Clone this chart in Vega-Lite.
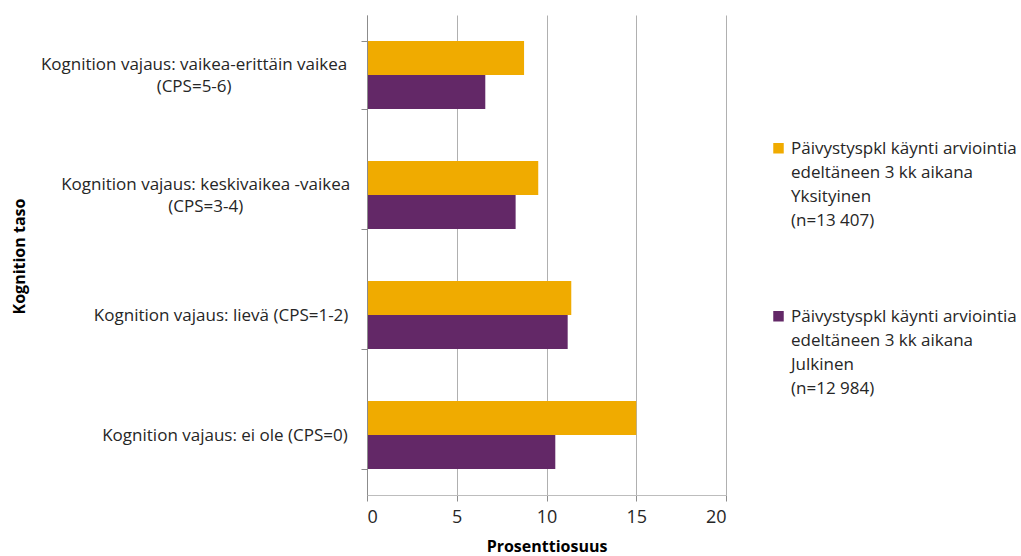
{
  "$schema": "https://vega.github.io/schema/vega-lite/v6.json",
  "autosize": "none",
  "width": 359,
  "height": 480,
  "padding": {"left": 367, "top": 15, "right": 295, "bottom": 61},
  "background": "white",
  "config": {"view": {"stroke": null}, "font": "Open Sans", "style": {"guide-label": {"lineHeight": 24}}},
  "data": {"values": [
    {"kategoria": "Kognition vajaus: vaikea-erittäin vaikea|(CPS=5-6)", "sarja": "Päivystyspkl käynti arviointia|edeltäneen 3 kk aikana|Yksityinen|(n=13 407)", "arvo": 8.75},
    {"kategoria": "Kognition vajaus: vaikea-erittäin vaikea|(CPS=5-6)", "sarja": "Päivystyspkl käynti arviointia|edeltäneen 3 kk aikana|Julkinen|(n=12 984)", "arvo": 6.59},
    {"kategoria": "Kognition vajaus: keskivaikea -vaikea|(CPS=3-4)", "sarja": "Päivystyspkl käynti arviointia|edeltäneen 3 kk aikana|Yksityinen|(n=13 407)", "arvo": 9.54},
    {"kategoria": "Kognition vajaus: keskivaikea -vaikea|(CPS=3-4)", "sarja": "Päivystyspkl käynti arviointia|edeltäneen 3 kk aikana|Julkinen|(n=12 984)", "arvo": 8.28},
    {"kategoria": "Kognition vajaus: lievä (CPS=1-2)", "sarja": "Päivystyspkl käynti arviointia|edeltäneen 3 kk aikana|Yksityinen|(n=13 407)", "arvo": 11.38},
    {"kategoria": "Kognition vajaus: lievä (CPS=1-2)", "sarja": "Päivystyspkl käynti arviointia|edeltäneen 3 kk aikana|Julkinen|(n=12 984)", "arvo": 11.18},
    {"kategoria": "Kognition vajaus: ei ole (CPS=0)", "sarja": "Päivystyspkl käynti arviointia|edeltäneen 3 kk aikana|Yksityinen|(n=13 407)", "arvo": 15.0},
    {"kategoria": "Kognition vajaus: ei ole (CPS=0)", "sarja": "Päivystyspkl käynti arviointia|edeltäneen 3 kk aikana|Julkinen|(n=12 984)", "arvo": 10.49}
  ]},
  "mark": {"type": "bar"},
  "encoding": {
    "y": {
      "field": "kategoria", "type": "nominal", "sort": null,
      "scale": {"paddingInner": 0.433, "paddingOuter": 0.2165},
      "axis": {
        "title": "Kognition taso",
        "titleFont": "Open Sans", "titleFontSize": 16, "titleFontWeight": "bold", "titleColor": "black",
        "titleX": -340, "titleY": 241,
        "labelExpr": "split(datum.label, '|')",
        "labelFont": "Open Sans", "labelFontSize": 17, "labelColor": "#262626",
        "labelLineHeight": 22, "labelLimit": 500,
        "labelAlign": "center",
        "labelPadding": {"expr": "13 + 3.86*length(split(datum.value, '|')[0])"},
        "labelOffset": {"expr": "length(split(datum.value, '|')) > 1 ? -11 : 0"},
        "tickBand": "extent", "tickSize": 6, "tickColor": "#8c8c8c",
        "domainColor": "#8c8c8c", "grid": false, "zindex": 1
      }
    },
    "yOffset": {"field": "sarja", "type": "nominal", "sort": null},
    "x": {
      "field": "arvo", "type": "quantitative",
      "scale": {"domain": [0, 20], "nice": false},
      "axis": {
        "title": "Prosenttiosuus",
        "titleFont": "Open Sans", "titleFontSize": 16, "titleFontWeight": "bold", "titleColor": "black",
        "titlePadding": 12,
        "values": [0, 5, 10, 15, 20],
        "labelFont": "Open Sans", "labelFontSize": 18, "labelColor": "#262626",
        "labelPadding": 7, "tickSize": 6, "tickColor": "#8c8c8c",
        "domainColor": "#bdbdbd",
        "grid": true, "gridColor": "#b0b0b0", "gridWidth": 1
      }
    },
    "color": {
      "field": "sarja", "type": "nominal", "sort": null,
      "scale": {"range": ["#F0AB00", "#632867"]},
      "legend": {
        "title": null,
        "orient": "none", "legendX": 403, "legendY": 130,
        "labelExpr": "split(datum.label, '|')",
        "labelFont": "Open Sans", "labelFontSize": 17, "labelColor": "#262626",
        "labelLimit": 500, "labelBaseline": "alphabetic",
        "labelOffset": 4,
        "symbolType": "M-1,-2H1V0H-1Z", "symbolSize": 110, "symbolStrokeWidth": 0,
        "rowPadding": 78
      }
    }
  }
}
